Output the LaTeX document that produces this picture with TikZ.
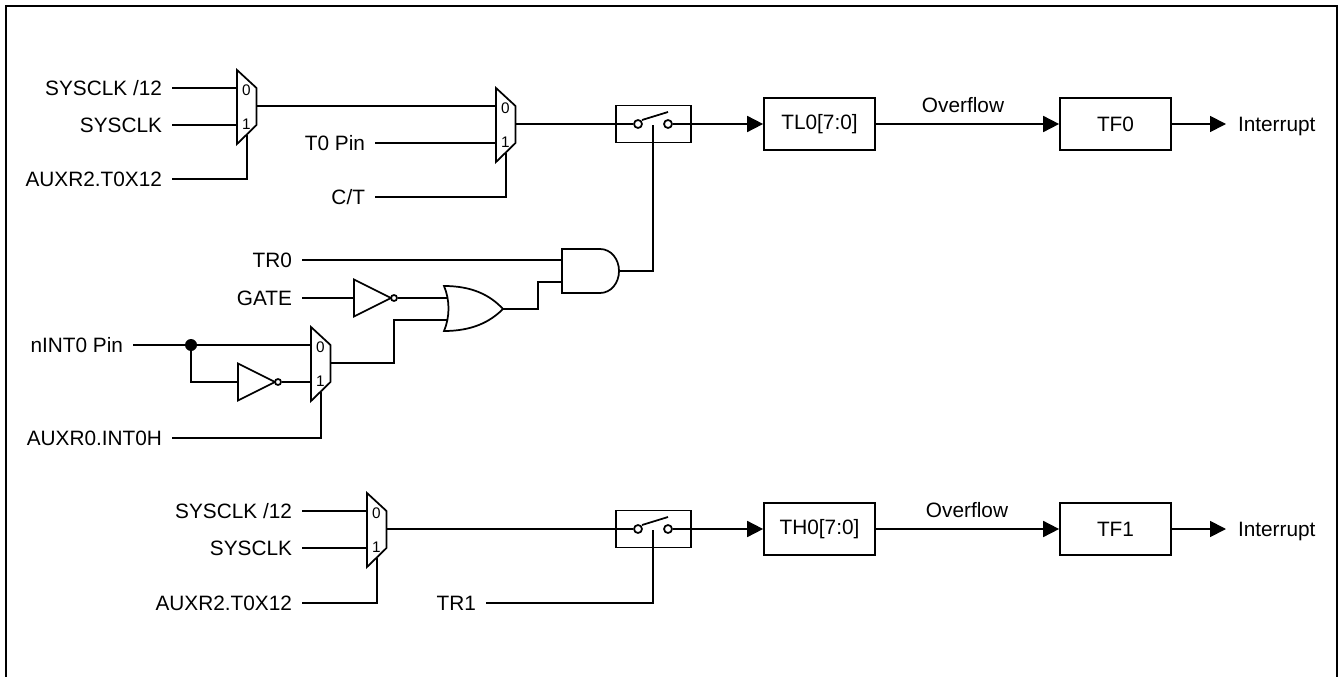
\documentclass[tikz,border=0pt]{standalone}
\usepackage{fontspec}
\setmainfont{Liberation Sans}
\usetikzlibrary{arrows.meta}
\tikzset{
	sig/.style = {line width = 1.3pt},
	flow/.style = {sig, -{Triangle[length = 12pt, width = 12pt]}},
	sigLabel/.style = {anchor = east, inner ysep = 0pt, inner xsep = 7.5pt, outer sep = 0pt, text height = 11.2pt, text depth = 0pt, font = \fontsize{15.6}{18}\selectfont},
	plainLabel/.style = {inner sep = 0pt, font = \fontsize{15.6}{18}\selectfont},
	digit/.style = {inner sep = 0pt, font = \fontsize{11.5}{13}\selectfont},
	block/.style = {draw, sig, minimum width = 83.25pt, minimum height = 39pt, inner sep = 0pt, font = \fontsize{15.6}{18}\selectfont},
	contact/.style = {draw, sig, circle, inner sep = 0pt, minimum size = 6pt, fill = white},
	joint/.style = {circle, fill, inner sep = 0pt, minimum size = 9pt}
}
\newcommand{\muxNode}[3]{
	\draw[sig] (#2, #3) -- (#2 + 19.5, #3 + 18) -- (#2 + 19.5, #3 + 55) -- (#2, #3 + 74) -- cycle;
	\coordinate (#1-in0) at (#2, #3 + 18);
	\coordinate (#1-in1) at (#2, #3 + 55);
	\coordinate (#1-out) at (#2 + 19.5, #3 + 36);
	\coordinate (#1-sel) at (#2 + 10, #3 + 65);
	\node[digit] (#1-d0) at (#2 + 9.5, #3 + 20) {0};
	\node[digit] (#1-d1) at (#2 + 9.5, #3 + 54) {1};
}
\newcommand{\notGate}[3]{
	\draw[sig] (#2, #3 - 18.5) -- (#2 + 37, #3) -- (#2, #3 + 18.5) -- cycle;
	\coordinate (#1-in) at (#2, #3);
	\node[contact, minimum size = 4.5pt] (#1-bub) at (#2 + 40, #3) {};
}
\newcommand{\switchNode}[3]{
	\node[draw, sig, minimum width = 56.25pt, minimum height = 27.75pt] (#1) at (#2, #3) {};
	\node[contact] (#1-a) at (#2 - 15.5, #3) {};
	\node[contact] (#1-b) at (#2 + 14.5, #3) {};
	\draw[sig] (#2 - 11.5, #3 - 4) -- (#2 + 14.5, #3 - 12);
	\coordinate (#1-ctl) at (#2 - 0.5, #3 + 1);
}
\begin{document}
\begin{tikzpicture}[x = 0.75pt, y = -0.75pt]
	\useasboundingbox (0, 0) rectangle (1344, 677);
	\draw[line width = 1.5pt] (6, 677) -- (6, 6) -- (1337, 6) -- (1337, 677);

	% clock select
	\muxNode{muxA}{237}{70}
	\muxNode{muxB}{496}{88}
	\node[sigLabel] (clkA) at (172, 88) {SYSCLK /12};
	\node[sigLabel] (sysA) at (172, 125) {SYSCLK};
	\node[sigLabel] (auxA) at (172, 179) {AUXR2.T0X12};
	\node[sigLabel] (pinT) at (375, 143) {T0 Pin};
	\node[sigLabel] (cnt) at (375, 197) {C/T};
	\draw[sig] (clkA.east) -- (muxA-in0);
	\draw[sig] (sysA.east) -- (muxA-in1);
	\draw[sig] (auxA.east) -| (muxA-sel);
	\draw[sig] (muxA-out) -- (muxB-in0);
	\draw[sig] (pinT.east) -- (muxB-in1);
	\draw[sig] (cnt.east) -| (muxB-sel);

	% timer 0
	\switchNode{swA}{653.5}{124}
	\node[block] (tl) at (819.5, 124) {TL0[7:0]};
	\node[block] (tfA) at (1115.5, 124) {TF0};
	\node[plainLabel] (ovfA) at (963, 105) {Overflow};
	\node[sigLabel, anchor = west, inner xsep = 9pt] (intA) at (1226, 124) {Interrupt};
	\draw[sig] (muxB-out) -- (swA-a);
	\draw[flow] (swA-b) -- (tl);
	\draw[flow] (tl) -- (tfA);
	\draw[flow] (tfA) -- (intA.west);

	% gate logic
	\draw[sig] (562, 249) -- (600, 249) .. controls (611, 249) and (619, 259) .. (619, 271) .. controls (619, 283) and (611, 293) .. (600, 293) -- (562, 293) -- cycle;
	\coordinate (andA-in0) at (562, 260);
	\coordinate (andA-in1) at (562, 282);
	\coordinate (andA-out) at (619, 271);
	\draw[sig] (444, 286) .. controls (472, 286) and (490, 295) .. (503, 309) .. controls (490, 322) and (472, 331) .. (444, 331) .. controls (450, 317) and (450, 300) .. (444, 286) -- cycle;
	\coordinate (orA-in0) at (448, 298);
	\coordinate (orA-in1) at (448, 320);
	\coordinate (orA-out) at (503, 309);
	\notGate{invA}{354}{298}
	\notGate{invB}{238}{382}
	\muxNode{muxC}{311}{327}
	\node[sigLabel] (trA) at (302, 260) {TR0};
	\node[sigLabel] (gate) at (302, 298) {GATE};
	\node[sigLabel] (pinI) at (133, 345) {nINT0 Pin};
	\node[sigLabel] (auxC) at (172, 438) {AUXR0.INT0H};
	\node[joint] (dot) at (191, 345) {};
	\draw[sig] (trA.east) -- (andA-in0);
	\draw[sig] (gate.east) -- (invA-in);
	\draw[sig] (invA-bub) -- (orA-in0);
	\draw[sig] (pinI.east) -- (dot) -- (muxC-in0);
	\draw[sig] (dot) |- (invB-in);
	\draw[sig] (invB-bub) -- (muxC-in1);
	\draw[sig] (auxC.east) -| (muxC-sel);
	\draw[sig] (muxC-out) -- (394, 363) |- (orA-in1);
	\draw[sig] (orA-out) -- (538, 309) |- (andA-in1);
	\draw[sig] (andA-out) -| (swA-ctl);

	% timer 1
	\muxNode{muxD}{367}{493}
	\switchNode{swB}{653.5}{529}
	\node[sigLabel] (clkD) at (302, 511) {SYSCLK /12};
	\node[sigLabel] (sysD) at (302, 548) {SYSCLK};
	\node[sigLabel] (auxD) at (302, 603) {AUXR2.T0X12};
	\node[sigLabel] (trB) at (486, 603) {TR1};
	\node[block] (th) at (819.5, 529) {TH0[7:0]};
	\node[block] (tfB) at (1115.5, 529) {TF1};
	\node[plainLabel] (ovfB) at (967, 510) {Overflow};
	\node[sigLabel, anchor = west, inner xsep = 9pt] (intB) at (1226, 529) {Interrupt};
	\draw[sig] (clkD.east) -- (muxD-in0);
	\draw[sig] (sysD.east) -- (muxD-in1);
	\draw[sig] (auxD.east) -| (muxD-sel);
	\draw[sig] (muxD-out) -- (swB-a);
	\draw[sig] (trB.east) -| (swB-ctl);
	\draw[flow] (swB-b) -- (th);
	\draw[flow] (th) -- (tfB);
	\draw[flow] (tfB) -- (intB.west);
\end{tikzpicture}
\end{document}
